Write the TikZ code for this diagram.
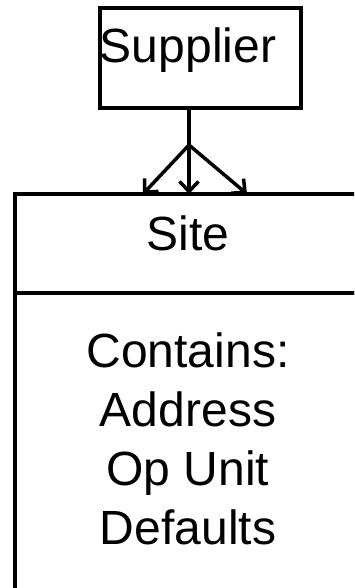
\documentclass[tikz,border=0pt]{standalone}
\usepackage{fontspec}
\setmainfont{Liberation Sans}
\usetikzlibrary{arrows.meta, positioning, calc}

\begin{document}
\begin{tikzpicture}[
    x=1pt, y=-1pt,
    box/.style={draw=black, line width=3.5pt, inner sep=0pt, outer sep=0pt},
    lbl/.style={inner sep=0pt, font=\fontsize{48}{59}\selectfont, align=center},
    link/.style={line width=3.5pt, -{Straight Barb[length=10pt, width=19pt, line width=3.5pt]}}
]
\clip (0,0) rectangle (354,588);

% supplier box and its label
\node[box, minimum width=201pt, minimum height=100pt] (supplier) at (200.5,58) {};
\node[lbl, anchor=base] (suppliertext) at (188,63) {Supplier};

% site box, head and body (runs off the page)
\node[box, minimum width=346pt, minimum height=99pt] (sitehead) at (188,243.5) {};
\node[box, minimum width=346pt, minimum height=360pt, anchor=north] (sitebody) at (sitehead.south) {};
\node[lbl, anchor=base] (sitetext) at (188,250) {Site};
\node[lbl, anchor=north] (contents) at (188,333) {Contains:\\Address\\Op Unit\\Defaults};

% crow's foot
\coordinate (fork) at (189,145);
\coordinate (tipL) at (143,194);
\coordinate (tipR) at (247,194);
\draw[line width=3.5pt] (supplier.south -| fork) -- (fork);
\draw[link] (fork) -- (tipL);
\draw[link] (fork) -- (sitehead.north -| fork);
\draw[link] (fork) -- (tipR);
\end{tikzpicture}
\end{document}
